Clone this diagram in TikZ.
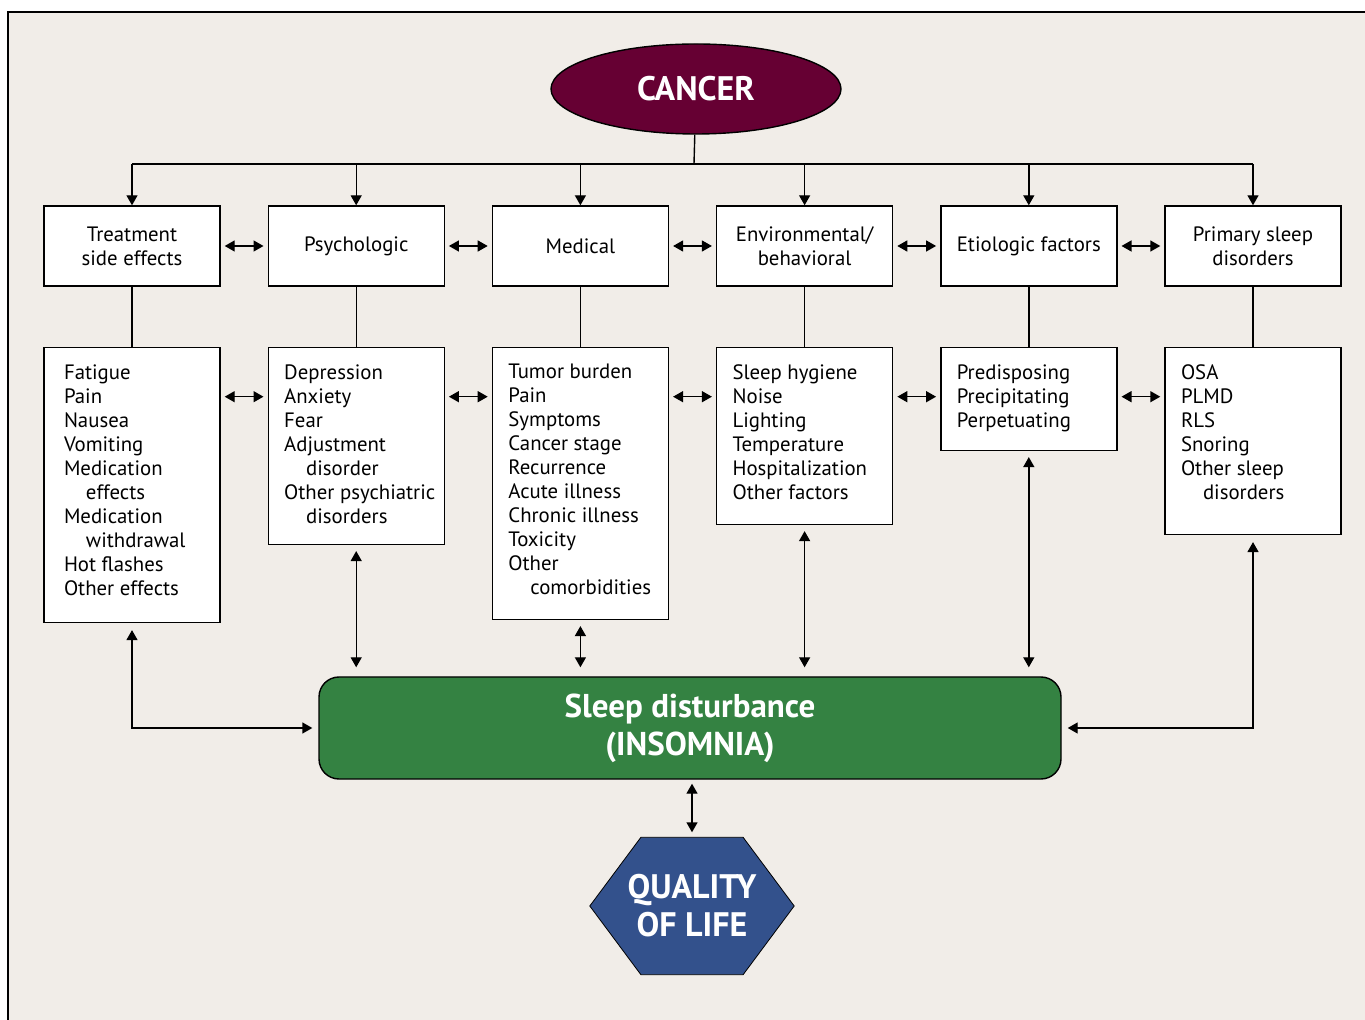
\documentclass[tikz,border=0pt]{standalone}
\usepackage{fontspec}
\setmainfont{PT Sans}
\usepackage{tikz}
\usetikzlibrary{arrows.meta, positioning, calc, shapes.geometric, backgrounds}

\definecolor{paper}{RGB}{241,237,232}
\definecolor{cancerred}{RGB}{102,0,51}
\definecolor{sleepgreen}{RGB}{52,130,66}
\definecolor{qolblue}{RGB}{51,81,140}

\newcommand{\factorlist}[2]{\parbox[c][#1][t]{72pt}{\raggedright\hyphenpenalty=10000 #2}}
\newcommand{\sublevel}{\hspace*{11pt}}

\begin{document}
\begin{tikzpicture}[x=0.5pt, y=-0.5pt, >={Triangle[length=5pt,width=5.5pt]},
        font=\fontsize{10.4}{12}\selectfont, line width=0.7pt,
        headbox/.style={draw, fill=white, minimum width=88pt, minimum height=40pt, align=center, inner sep=2pt},
        listbox/.style={draw, fill=white, minimum width=88pt, inner xsep=8pt, inner ysep=8.5pt},
        link/.style={<->, shorten <=2pt, shorten >=2pt}]
        \useasboundingbox (0,0) rectangle (1365,1020);

        % Cancer
        \node[ellipse, draw, fill=cancerred, minimum width=145pt, minimum height=45pt, text=white,
              font=\fontsize{17}{20}\selectfont\bfseries] (cancer) at (696,89) {CANCER};

        % Factor headings
        \node[headbox] (t1) at (132,246) {Treatment\\side effects};
        \node[headbox, right=23.4pt of t1] (t2) {Psychologic};
        \node[headbox, right=23.4pt of t2] (t3) {Medical};
        \node[headbox, right=23.4pt of t3] (t4) {Environmental/\\behavioral};
        \node[headbox, right=23.4pt of t4] (t5) {Etiologic factors};
        \node[headbox, right=23.4pt of t5] (t6) {Primary sleep\\disorders};

        % Factor lists
        \node[listbox, below=30pt of t1] (l1) {\factorlist{120.5pt}{\hspace*{2pt}Fatigue\\\hspace*{2pt}Pain\\\hspace*{2pt}Nausea\\\hspace*{2pt}Vomiting\\\hspace*{2pt}Medication\\\hspace*{13pt}effects\\\hspace*{2pt}Medication\\\hspace*{13pt}withdrawal\\\hspace*{2pt}Hot flashes\\\hspace*{2pt}Other effects}};
        \node[listbox, below=30pt of t2] (l2) {\factorlist{81.5pt}{Depression\\Anxiety\\Fear\\Adjustment\\\sublevel disorder\\\mbox{Other psychiatric}\\\sublevel disorders}};
        \node[listbox, below=30pt of t3] (l3) {\factorlist{119pt}{Tumor burden\\Pain\\Symptoms\\Cancer stage\\Recurrence\\Acute illness\\Chronic illness\\Toxicity\\Other\\\sublevel comorbidities}};
        \node[listbox, below=30pt of t4] (l4) {\factorlist{71.5pt}{Sleep hygiene\\Noise\\Lighting\\Temperature\\Hospitalization\\Other factors}};
        \node[listbox, below=30pt of t5] (l5) {\factorlist{34.5pt}{Predisposing\\Precipitating\\Perpetuating}};
        \node[listbox, below=30pt of t6] (l6) {\factorlist{76.5pt}{OSA\\PLMD\\RLS\\Snoring\\Other sleep\\\sublevel disorders}};

        % Sleep disturbance
        \node[draw, fill=sleepgreen, rounded corners=10pt, minimum width=371pt, minimum height=51pt, text=white,
              align=center, font=\fontsize{16.5}{19}\selectfont\bfseries] (sleep) at (690,728) {Sleep disturbance\\(INSOMNIA)};

        % Quality of life
        \node[minimum width=101.5pt, minimum height=68pt, inner sep=0pt, text=white, align=center,
              font=\fontsize{17}{19}\selectfont\bfseries] (qol) at (692,906) {QUALITY\\OF LIFE};

        \begin{scope}[on background layer]
            \fill[paper] (8,12) rectangle (1365,1020);
            \draw[line width=1pt] (8,1020) -- (8,12) -- (1365,12);
            \filldraw[fill=qolblue, draw=black] (qol.west)
                -- ($(qol.north west)!.25!(qol.north east)$) -- ($(qol.north west)!.75!(qol.north east)$)
                -- (qol.east)
                -- ($(qol.south west)!.75!(qol.south east)$) -- ($(qol.south west)!.25!(qol.south east)$)
                -- cycle;
        \end{scope}

        % Bus from cancer
        \coordinate (bus) at (694,164);
        \draw (cancer) -- (bus);
        \draw (bus -| t1) -- (bus -| t6);
        \foreach \i in {1,...,6} { \draw[->] (bus -| t\i) -- (t\i); }

        % Headings to lists
        \foreach \i in {1,...,6} { \draw (t\i) -- (l\i); }

        % Side links
        \foreach \i/\j in {1/2, 2/3, 3/4, 4/5, 5/6} {
            \draw[link] (t\i) -- (t\j);
            \draw[link] ($(l\i.north east)+(0,50)$) -- ($(l\j.north west)+(0,50)$);
        }

        % Lists to sleep disturbance
        \draw[<->, shorten <=3.5pt, shorten >=3pt] (l1) |- (sleep);
        \foreach \i in {2,...,5} { \draw[<->, shorten <=3pt, shorten >=4.5pt] (l\i) -- (l\i |- sleep.north); }
        \draw[<->, shorten <=3.5pt, shorten >=3pt] (l6) |- (sleep);

        % Sleep to quality of life
        \draw[<->, shorten <=2pt, shorten >=2.5pt] (qol.north |- sleep.south) -- (qol.north);
\end{tikzpicture}
\end{document}
